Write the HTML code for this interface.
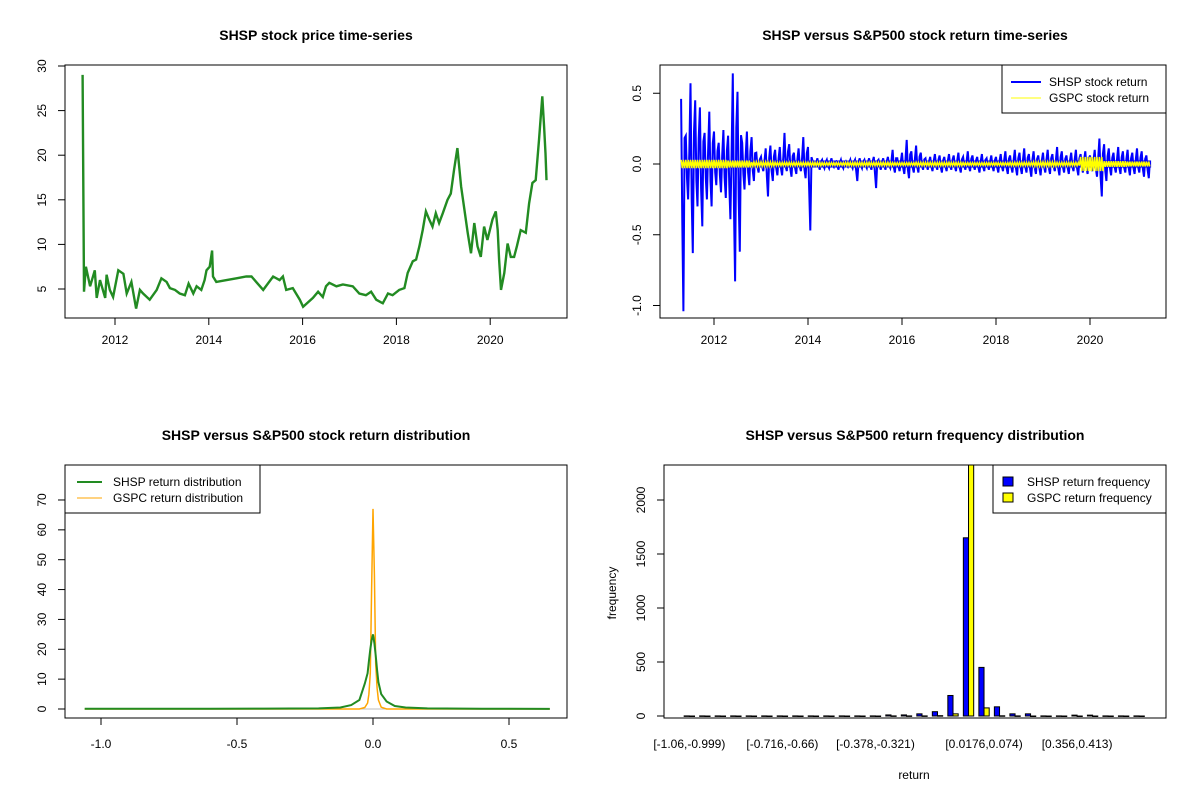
<!DOCTYPE html>
<html><head><meta charset="utf-8"><style>
html,body{margin:0;padding:0;background:#fff;}
svg text{font-family:"Liberation Sans",Arial,sans-serif;fill:#000;}
</style></head><body>
<svg id="fig" xmlns="http://www.w3.org/2000/svg" width="1200" height="800" viewBox="0 0 1200 800"></svg>
<script>
// ---- Panel 1: price ----
const priceYears=[2011.31,2011.34,2011.38,2011.47,2011.57,2011.61,2011.68,2011.79,2011.82,2011.89,2011.96,2012.07,2012.18,2012.25,2012.35,2012.45,2012.53,2012.60,2012.74,2012.89,2012.99,2013.10,2013.17,2013.28,2013.38,2013.49,2013.57,2013.67,2013.74,2013.84,2013.91,2013.95,2014.02,2014.07,2014.09,2014.16,2014.38,2014.59,2014.80,2014.91,2015.01,2015.16,2015.37,2015.51,2015.58,2015.65,2015.79,2015.94,2016.01,2016.22,2016.33,2016.43,2016.50,2016.57,2016.72,2016.86,2017.07,2017.21,2017.35,2017.46,2017.57,2017.71,2017.82,2017.92,2018.06,2018.17,2018.24,2018.35,2018.42,2018.49,2018.56,2018.63,2018.70,2018.77,2018.84,2018.91,2018.99,2019.09,2019.16,2019.23,2019.30,2019.38,2019.45,2019.52,2019.59,2019.66,2019.73,2019.80,2019.87,2019.94,2020.05,2020.12,2020.16,2020.19,2020.23,2020.30,2020.37,2020.44,2020.51,2020.57,2020.65,2020.76,2020.83,2020.90,2020.97,2021.04,2021.11,2021.15,2021.18,2021.20];
const priceValues=[29.0,4.7,7.5,5.3,7.1,4.0,6.0,4.0,6.6,4.9,4.1,7.1,6.7,4.5,5.8,2.8,4.9,4.5,3.8,4.9,6.2,5.8,5.1,4.9,4.5,4.3,5.6,4.5,5.3,4.9,6.0,7.1,7.5,9.3,6.4,5.8,6.0,6.2,6.4,6.4,5.8,4.9,6.4,6.0,6.4,4.9,5.1,3.8,3.0,4.0,4.7,4.1,5.3,5.7,5.3,5.5,5.3,4.5,4.3,4.7,3.8,3.4,4.5,4.3,4.9,5.1,6.8,8.1,8.3,9.8,11.6,13.7,12.8,12.0,13.5,12.4,13.5,15.0,15.7,18.4,20.8,16.5,13.9,11.3,9.0,12.4,9.8,8.6,12.0,10.5,12.8,13.7,11.6,8.3,4.9,6.8,10.1,8.6,8.6,9.8,11.6,11.3,14.6,16.9,17.2,21.7,26.6,23.2,20.2,17.2];
const priceYTicks=[5,10,15,20,25,30];
const yearTicks=[2012,2014,2016,2018,2020];
// ---- Panel 2: returns (envelopes per 0.1 yr from 2011.3) ----
const retStart=2011.3, retStep=0.1;
const shspRetHi=[0.46,0.20,0.57,0.45,0.40,0.22,0.37,0.23,0.15,0.24,0.20,0.64,0.51,0.15,0.23,0.19,0.08,0.05,0.11,0.13,0.10,0.12,0.22,0.14,0.08,0.11,0.19,0.12,0.02,0.04,0.03,0.03,0.04,0.02,0.03,0.02,0.03,0.03,0.04,0.03,0.04,0.05,0.03,0.04,0.05,0.10,0.04,0.08,0.17,0.09,0.13,0.08,0.04,0.05,0.07,0.06,0.05,0.07,0.06,0.08,0.05,0.09,0.06,0.05,0.07,0.04,0.06,0.05,0.07,0.09,0.06,0.10,0.08,0.11,0.07,0.09,0.06,0.08,0.10,0.07,0.12,0.09,0.06,0.08,0.10,0.07,0.09,0.06,0.10,0.18,0.14,0.11,0.08,0.12,0.09,0.10,0.08,0.11,0.09,0.06];
const shspRetLo=[-1.04,-0.25,-0.63,-0.30,-0.44,-0.25,-0.30,-0.15,-0.20,-0.24,-0.39,-0.83,-0.62,-0.18,-0.15,-0.12,-0.06,-0.05,-0.23,-0.12,-0.08,-0.08,-0.05,-0.09,-0.07,-0.05,-0.10,-0.47,-0.01,-0.04,-0.03,-0.03,-0.02,-0.04,-0.03,-0.02,-0.03,-0.12,-0.03,-0.03,-0.04,-0.17,-0.04,-0.04,-0.03,-0.06,-0.05,-0.07,-0.10,-0.06,-0.06,-0.04,-0.04,-0.05,-0.04,-0.06,-0.05,-0.04,-0.05,-0.06,-0.04,-0.05,-0.04,-0.06,-0.05,-0.04,-0.05,-0.06,-0.05,-0.07,-0.06,-0.08,-0.07,-0.06,-0.09,-0.07,-0.08,-0.06,-0.07,-0.05,-0.08,-0.06,-0.07,-0.05,-0.08,-0.06,-0.07,-0.05,-0.09,-0.23,-0.12,-0.08,-0.06,-0.07,-0.06,-0.08,-0.07,-0.06,-0.09,-0.10];
const gspcStep=0.5;
const gspcRetAmp=[0.03,0.03,0.025,0.015,0.012,0.012,0.01,0.012,0.012,0.01,0.012,0.012,0.01,0.01,0.012,0.015,0.012,0.05,0.02,0.018];
const retYTicks=[-1.0,-0.5,0.0,0.5];
// ---- Panel 3: densities ----
const densX=[-1.06,-0.6,-0.4,-0.2,-0.12,-0.08,-0.05,-0.03,-0.02,-0.015,-0.01,-0.005,0,0.005,0.01,0.015,0.02,0.03,0.05,0.08,0.12,0.2,0.4,0.65];
const shspDens=[0.1,0.1,0.15,0.2,0.5,1.3,3,8.5,12,16,20,23,25,22,18,13,9,5,2.5,1,0.5,0.2,0.1,0.05];
const gspcDens=[0,0,0,0,0,0,0,0.5,2,5,12,40,67,45,15,7,3,0.6,0,0,0,0,0,0];
const densXTicks=[-1.0,-0.5,0.0,0.5];
const densYTicks=[0,10,20,30,40,50,60,70];
// ---- Panel 4: histogram ----
const binLabels=["[-1.06,-0.999)","[-0.716,-0.66)","[-0.378,-0.321)","[0.0176,0.074)","[0.356,0.413)"];
const binLabelIdx=[0,6,12,19,25];
const shspFreq=[1,1,1,1,1,1,1,1,1,1,1,1,1,10,10,20,40,190,1650,450,85,20,20,1,1,8,8,1,1,1];
const gspcFreq=[0,0,0,0,0,0,0,0,0,0,0,0,0,1,1,1,3,20,2600,75,2,1,0,0,0,0,0,0,0,0];
const freqYTicks=[0,500,1000,1500,2000];

const NS="http://www.w3.org/2000/svg";
const svg=document.getElementById('fig');
function mk(tag,attrs,parent){const e=document.createElementNS(NS,tag);for(const k in attrs)e.setAttribute(k,attrs[k]);(parent||svg).appendChild(e);return e;}
function txt(s,x,y,size,anchor,rot,weight){const t=mk('text',{x:x,y:y,'font-size':size,'text-anchor':anchor||'middle'});if(rot)t.setAttribute('transform','rotate(-90 '+x+' '+y+')');if(weight)t.setAttribute('font-weight',weight);t.textContent=s;return t;}
function line(x1,y1,x2,y2,c,w){return mk('line',{x1:x1,y1:y1,x2:x2,y2:y2,stroke:c||'#000','stroke-width':w||1});}
function box(x1,y1,x2,y2){return mk('rect',{x:x1,y:y1,width:x2-x1,height:y2-y1,fill:'none',stroke:'#000','stroke-width':1});}

// ===== Panel 1 =====
const p1x=v=>115+(v-2012)*46.9, p1y=v=>289-(v-5)*8.92;
let g=mk('g',{});


let t=txt('SHSP stock price time-series',316,40,14,'middle',false,'bold');


let pl=mk('polyline',{points:priceYears.map((y,i)=>p1x(y).toFixed(1)+','+p1y(priceValues[i]).toFixed(1)).join(' '),fill:'none',stroke:'#228b22','stroke-width':2.4,'stroke-linejoin':'miter'},g);


let b=box(65,65,567,318);


yearTicks.forEach(y=>{line(p1x(y),318,p1x(y),325);let l=txt(String(y),p1x(y),344,12);});
line(p1x(2012),318,p1x(2020),318);
priceYTicks.forEach(v=>{line(58,p1y(v),65,p1y(v));let l=txt(String(v),46,p1y(v),12,'middle',true);});

// ===== Panel 2 =====
const p2x=v=>714+(v-2012)*47.0, p2y=v=>164-v*141.5;
t=txt('SHSP versus S&P500 stock return time-series',915,40,14,'middle',false,'bold');


let pts=[];
shspRetHi.forEach((h,i)=>{const yr=retStart+i*retStep;pts.push(p2x(yr).toFixed(1)+','+p2y(h).toFixed(1));pts.push(p2x(yr+retStep*0.25).toFixed(1)+','+p2y(shspRetLo[i]*0.4).toFixed(1));pts.push(p2x(yr+retStep*0.5).toFixed(1)+','+p2y(shspRetLo[i]).toFixed(1));pts.push(p2x(yr+retStep*0.75).toFixed(1)+','+p2y(h*0.4).toFixed(1));});
pl=mk('polyline',{points:pts.join(' '),fill:'none',stroke:'#0000ff','stroke-width':2});


let band=mk('rect',{x:p2x(retStart),y:p2y(0.025),width:p2x(retStart+shspRetHi.length*retStep)-p2x(retStart),height:p2y(-0.025)-p2y(0.025),fill:'#0000ff'});


pts=[];
gspcRetAmp.forEach((a,i)=>{for(let k=0;k<20;k++){const yr=retStart+i*gspcStep+k*gspcStep/20;pts.push(p2x(yr).toFixed(1)+','+p2y(k%2?-a:a).toFixed(1));}});
pl=mk('polyline',{points:pts.join(' '),fill:'none',stroke:'#ffff00','stroke-width':1.5});


b=box(660,65,1166,318);


yearTicks.forEach(y=>{line(p2x(y),318,p2x(y),325);let l=txt(String(y),p2x(y),344,12);});
line(p2x(2012),318,p2x(2020),318);
retYTicks.forEach(v=>{line(653,p2y(v),660,p2y(v));let l=txt(v.toFixed(1),641,p2y(v),12,'middle',true);});
let lg=mk('g',{});


mk('rect',{x:1002,y:65,width:164,height:48,fill:'#fff',stroke:'#000'},lg);
mk('line',{x1:1011,y1:82,x2:1041,y2:82,stroke:'#0000ff','stroke-width':2},lg);
mk('line',{x1:1011,y1:98,x2:1041,y2:98,stroke:'#ffff00','stroke-width':1},lg);
t=txt('SHSP stock return',1049,86,12,'start');lg.appendChild(t);
t=txt('GSPC stock return',1049,102,12,'start');lg.appendChild(t);

// ===== Panel 3 =====
const p3x=v=>373+v*272, p3y=v=>709-v*2.986;
t=txt('SHSP versus S&P500 stock return distribution',316,440,14,'middle',false,'bold');


pl=mk('polyline',{points:densX.map((x,i)=>p3x(x).toFixed(1)+','+p3y(0).toFixed(1)).join(' '),fill:'none',stroke:'#bebebe','stroke-width':1});


pl=mk('polyline',{points:densX.map((x,i)=>p3x(x).toFixed(1)+','+p3y(gspcDens[i]).toFixed(1)).join(' '),fill:'none',stroke:'#ffa500','stroke-width':1.5});


pl=mk('polyline',{points:densX.map((x,i)=>p3x(x).toFixed(1)+','+p3y(shspDens[i]).toFixed(1)).join(' '),fill:'none',stroke:'#228b22','stroke-width':2});


b=box(65,465,567,718);


densXTicks.forEach(v=>{line(p3x(v),718,p3x(v),725);let l=txt(v.toFixed(1),p3x(v),748,12);});
line(p3x(-1),718,p3x(0.5),718);
densYTicks.forEach(v=>{line(58,p3y(v),65,p3y(v));let l=txt(String(v),46,p3y(v),12,'middle',true);});
lg=mk('g',{});


mk('rect',{x:65,y:465,width:195,height:48,fill:'#fff',stroke:'#000'},lg);
mk('line',{x1:77,y1:482,x2:102,y2:482,stroke:'#228b22','stroke-width':2},lg);
mk('line',{x1:77,y1:498,x2:102,y2:498,stroke:'#ffa500','stroke-width':1},lg);
t=txt('SHSP return distribution',113,486,12,'start');lg.appendChild(t);
t=txt('GSPC return distribution',113,502,12,'start');lg.appendChild(t);

// ===== Panel 4 =====
const u=5.17, bx0=679;
const p4y=v=>716-v*0.108;
t=txt('SHSP versus S&P500 return frequency distribution',915,440,14,'middle',false,'bold');


const clipR=mk('clipPath',{id:'c4'});mk('rect',{x:664,y:465,width:502,height:253},clipR);
const bg=mk('g',{'clip-path':'url(#c4)'});


shspFreq.forEach((f,i)=>{
  const x=bx0+(3*i+1)*u;
  let r=mk('rect',{x:x,y:p4y(f),width:u,height:Math.max(0.5,p4y(0)-p4y(f)),fill:'#0000ff',stroke:'#000','stroke-width':1},bg);
  
  
  let r2=mk('rect',{x:x+u,y:p4y(gspcFreq[i]),width:u,height:Math.max(0.5,p4y(0)-p4y(gspcFreq[i])),fill:'#ffff00',stroke:'#000','stroke-width':1},bg);
  
  
});
b=box(664,465,1166,718);


binLabelIdx.forEach((idx,k)=>{const cx=bx0+(3*idx+2)*u;let l=txt(binLabels[k],cx,748,12);});
freqYTicks.forEach(v=>{line(657,p4y(v),664,p4y(v));let l=txt(String(v),645,p4y(v),12,'middle',true);});
line(664,p4y(0),664,p4y(2000));
t=txt('frequency',616,593,12,'middle',true);


t=txt('return',914,779,12);


lg=mk('g',{});


mk('rect',{x:993,y:465,width:173,height:48,fill:'#fff',stroke:'#000'},lg);
mk('rect',{x:1003,y:477,width:10,height:9,fill:'#0000ff',stroke:'#000'},lg);
mk('rect',{x:1003,y:493,width:10,height:9,fill:'#ffff00',stroke:'#000'},lg);
t=txt('SHSP return frequency',1027,486,12,'start');lg.appendChild(t);
t=txt('GSPC return frequency',1027,502,12,'start');lg.appendChild(t);
</script>
</body></html>
